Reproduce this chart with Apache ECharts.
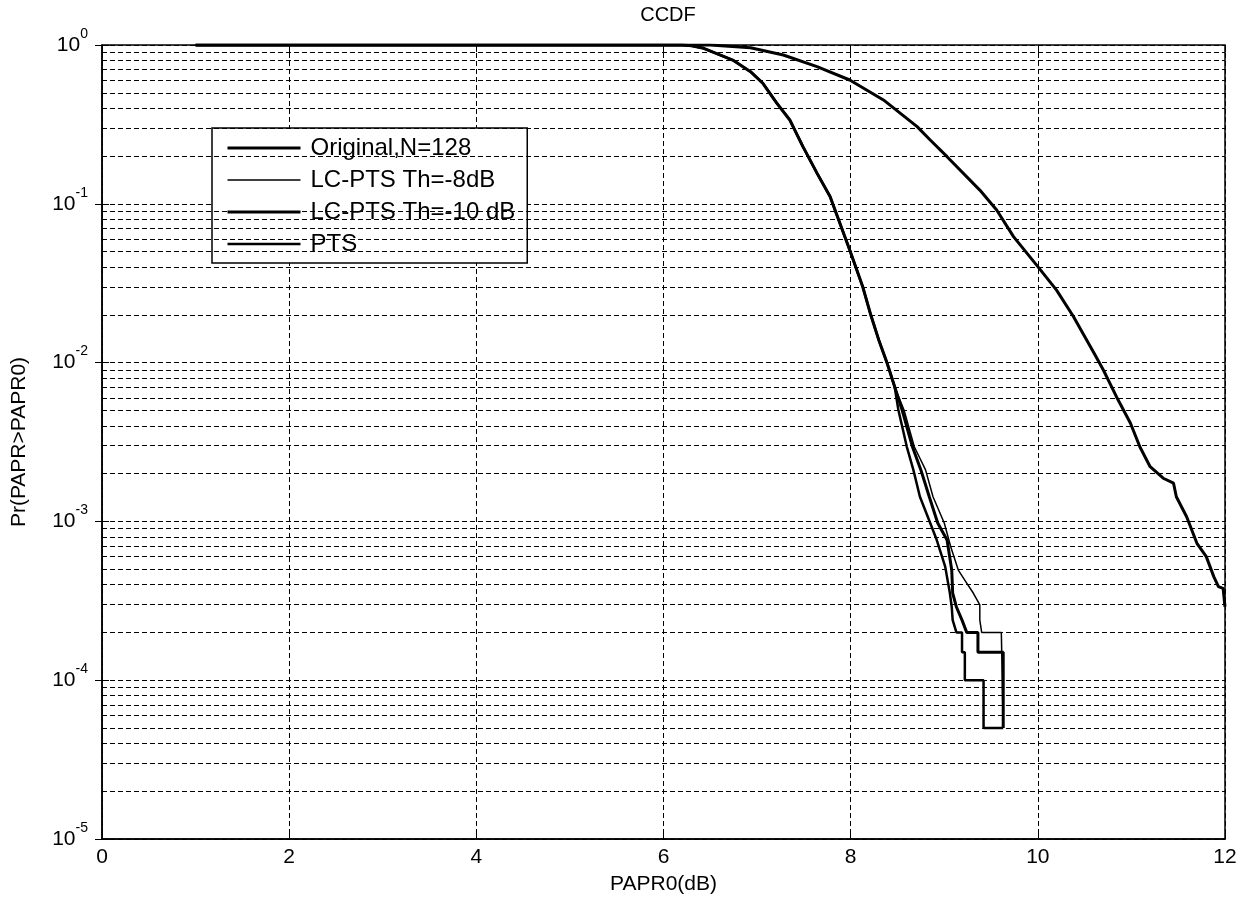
<!DOCTYPE html>
<html><head><meta charset="utf-8">
<script src="https://cdn.jsdelivr.net/npm/echarts@6/dist/echarts.min.js"></script>
<style>html,body{margin:0;padding:0;background:#fff}#c{width:1247px;height:909px}</style>
</head><body><div id="c"></div>
<script>
// ---- data (x = PAPR0 in dB, y = Pr(PAPR > PAPR0)) ----
const seriesNames = ['Original,N=128', 'LC-PTS Th=-8dB', 'LC-PTS Th=-10 dB', 'PTS'];
const xTickValues = [0, 2, 4, 6, 8, 10, 12];

const originalData = [
  [1.0, 1], [6.5, 1], [6.93, 0.96], [7.28, 0.865], [7.64, 0.73], [7.99, 0.602],
  [8.35, 0.451], [8.71, 0.306], [8.85, 0.252], [9.03, 0.198], [9.38, 0.122],
  [9.56, 0.0914], [9.74, 0.0621], [10.0, 0.0402], [10.2, 0.0286], [10.38, 0.0195],
  [10.6, 0.0115], [10.7, 0.00898], [10.84, 0.0061], [10.99, 0.00415], [11.09, 0.00295],
  [11.2, 0.00221], [11.34, 0.00187], [11.45, 0.00174], [11.48, 0.00143], [11.59, 0.00107],
  [11.7, 0.000728], [11.8, 0.0006], [11.88, 0.000449], [11.93, 0.000388], [11.98, 0.000379],
  [12.0, 0.00029]
];

// shared upper part of the three PTS-type curves (they overlap there)
const ptsHead = [
  [1.0, 1], [6.2, 1], [6.3, 0.99], [6.43, 0.953], [6.74, 0.804], [6.93, 0.679],
  [7.06, 0.576], [7.21, 0.431], [7.35, 0.337], [7.49, 0.229], [7.64, 0.156],
  [7.78, 0.111], [7.99, 0.0512], [8.13, 0.0299], [8.21, 0.0204], [8.30, 0.0139],
  [8.39, 0.0099], [8.47, 0.00705]
];

const th8Tail = [
  [8.57, 0.00503], [8.68, 0.00295], [8.74, 0.0025], [8.80, 0.00211], [8.88, 0.00143],
  [9.00, 0.000977], [9.07, 0.00069], [9.15, 0.000494], [9.17, 0.000494], [9.24, 0.000409],
  [9.31, 0.000354], [9.38, 0.000298], [9.38, 0.000239], [9.40, 0.0002], [9.61, 0.0002],
  [9.63, 0.00005]
];
const th10Tail = [
  [8.55, 0.00503], [8.66, 0.00295], [8.75, 0.00211], [8.84, 0.00143], [8.93, 0.000977],
  [9.03, 0.000763], [9.08, 0.000494], [9.09, 0.000354], [9.13, 0.000289], [9.19, 0.000239],
  [9.24, 0.0002], [9.36, 0.0002], [9.36, 0.00015], [9.63, 0.00015], [9.63, 0.00005]
];
const ptsTail = [
  [8.51, 0.00503], [8.60, 0.00295], [8.67, 0.00211], [8.74, 0.00143], [8.85, 0.000977],
  [8.92, 0.000763], [9.01, 0.000519], [9.06, 0.000354], [9.08, 0.000289], [9.09, 0.000239],
  [9.13, 0.0002], [9.19, 0.0002], [9.19, 0.00015], [9.22, 0.00015], [9.22, 0.0001],
  [9.42, 0.0001], [9.42, 0.00005], [9.63, 0.00005]
];

// minor log grid positions
const decadeStarts = [1e-5, 1e-4, 1e-3, 1e-2, 1e-1];
const minorMultipliers = [2, 3, 4, 5, 6, 7, 8, 9];

// ---- chart ----
const FONT = 'Liberation Sans, Arial, sans-serif';
const lineWidths = [3, 1.5, 3, 2.5];
const minorLines = [];
decadeStarts.forEach(d => minorMultipliers.forEach(m => minorLines.push({ yAxis: d * m })));

const dash = [5, 3];
const chart = echarts.init(document.getElementById('c'), null, { renderer: 'canvas' });

function curve(name, data, width, z) {
  return {
    name, type: 'line', data, symbol: 'none', showSymbol: false, z,
    lineStyle: { color: '#000', width }, itemStyle: { color: '#000' },
    emphasis: { disabled: true }, animation: false, clip: true
  };
}

chart.setOption({
  animation: false,
  backgroundColor: '#fff',
  title: {
    text: 'CCDF', left: 663, top: 0, textAlign: 'center',
    textStyle: { fontFamily: FONT, fontSize: 20, fontWeight: 'normal', color: '#000' }
  },
  grid: { left: 102, right: 22, top: 45, bottom: 70, show: true, borderColor: '#000', borderWidth: 1.5, containLabel: false },
  legend: {
    orient: 'vertical', left: 212, top: 128,
    data: seriesNames.map((n, i) => ({ name: n, lineStyle: { width: lineWidths[i], color: '#000' } })),
    backgroundColor: '#fff', borderColor: '#000', borderWidth: 1.5,
    padding: [8, 12, 7, 14],
    itemWidth: 73, itemHeight: 14, itemGap: 8,
    itemStyle: { opacity: 0 },
    textStyle: { fontFamily: FONT, fontSize: 24, color: '#000', padding: [0, 0, 0, 5] },
    selectedMode: false
  },
  xAxis: [{
    type: 'value', min: 0, max: 12, interval: 2,
    name: 'PAPR0(dB)', nameLocation: 'middle', nameGap: 35,
    nameTextStyle: { fontFamily: FONT, fontSize: 21, color: '#000' },
    axisLine: { show: true, lineStyle: { color: '#000', width: 1.5 } },
    axisTick: { show: true, inside: true, length: 7, lineStyle: { color: '#000' } },
    axisLabel: { margin: 8, fontFamily: FONT, fontSize: 21, color: '#000',
      formatter: v => (xTickValues.indexOf(v) >= 0 ? String(v) : '') },
    splitLine: { show: true, lineStyle: { color: '#000', type: dash, width: 1 } }
  }, {
    type: 'value', min: 0, max: 12, interval: 2, position: 'top',
    axisLine: { show: false }, axisLabel: { show: false },
    axisTick: { show: true, inside: true, length: 7, lineStyle: { color: '#000' } },
    splitLine: { show: false }
  }],
  yAxis: [{
    type: 'log', logBase: 10, min: 1e-5, max: 1,
    name: 'Pr(PAPR>PAPR0)', nameLocation: 'middle', nameGap: 72, nameRotate: 90,
    nameTextStyle: { fontFamily: FONT, fontSize: 21, color: '#000' },
    axisLine: { show: true, lineStyle: { color: '#000', width: 1.5 } },
    axisTick: { show: true, inside: true, length: 7, lineStyle: { color: '#000' } },
    axisLabel: {
      margin: 14,
      formatter: v => '{b|10}{s|' + Math.round(Math.log10(v)) + '}',
      rich: {
        b: { fontFamily: FONT, fontSize: 21, color: '#000', lineHeight: 36, verticalAlign: 'middle' },
        s: { fontFamily: FONT, fontSize: 14, color: '#000', lineHeight: 15, verticalAlign: 'top' }
      }
    },
    splitLine: { show: true, lineStyle: { color: '#000', type: dash, width: 1 } },
    minorTick: { show: false }
  }, {
    type: 'log', logBase: 10, min: 1e-5, max: 1, position: 'right',
    axisLine: { show: false }, axisLabel: { show: false },
    axisTick: { show: true, inside: true, length: 7, lineStyle: { color: '#000' } },
    splitLine: { show: false }
  }],
  series: [
    {
      name: 'minor-grid', type: 'line', data: [], symbol: 'none', z: 1, silent: true,
      markLine: {
        silent: true, symbol: ['none', 'none'], animation: false, precision: 10,
        label: { show: false },
        lineStyle: { color: '#000', type: dash, width: 1 },
        emphasis: { disabled: true },
        data: minorLines
      }
    },
    curve(seriesNames[0], originalData, lineWidths[0], 5),
    curve(seriesNames[1], ptsHead.concat(th8Tail), lineWidths[1], 6),
    curve(seriesNames[2], ptsHead.concat(th10Tail), lineWidths[2], 4),
    curve(seriesNames[3], ptsHead.concat(ptsTail), lineWidths[3], 3)
  ]
});
</script>
</body></html>
